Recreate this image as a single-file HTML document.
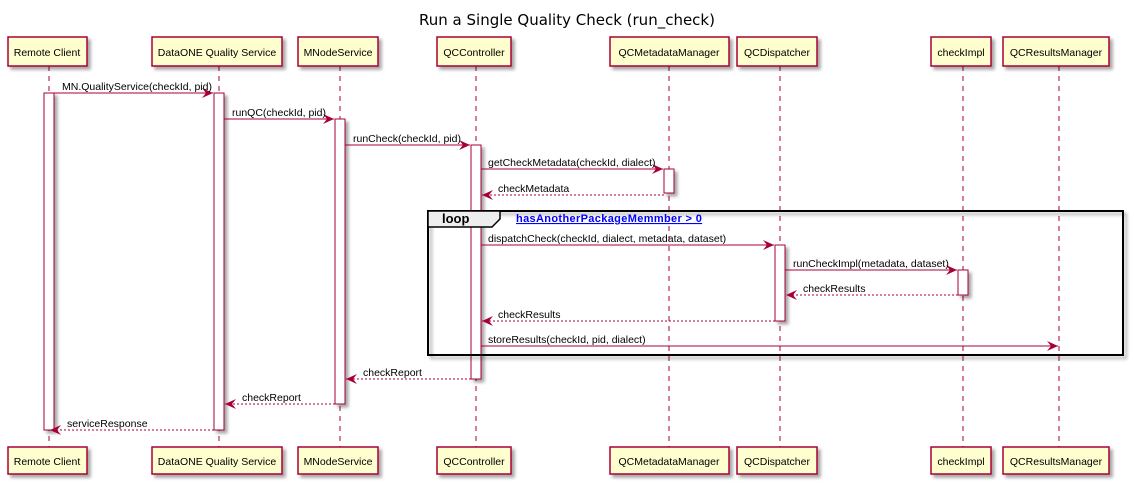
<!DOCTYPE html>
<html><head><meta charset="utf-8"><style>
html,body{margin:0;padding:0;background:#fff;width:1134px;height:484px;overflow:hidden}
svg text{font-family:"Liberation Sans",sans-serif;font-size:10.5px;fill:#000}
</style></head><body>
<svg width="1134" height="484" viewBox="0 0 1134 484" xmlns="http://www.w3.org/2000/svg">
<defs>
<filter id="sh" x="-10%" y="-10%" width="130%" height="140%"><feDropShadow dx="3" dy="3" stdDeviation="1.5" flood-color="#000" flood-opacity="0.35"/></filter>
<marker id="ah" markerWidth="12" markerHeight="10" refX="11" refY="5" orient="auto" markerUnits="userSpaceOnUse"><path d="M0,0 L11,5 L0,10 L4,5 Z" fill="#A80036"/></marker>
</defs>
<text x="567" y="25" text-anchor="middle" style="font-family:'DejaVu Sans','Liberation Sans',sans-serif;font-size:15px;font-weight:normal;fill:#000">Run a Single Quality Check (run_check)</text>

<g stroke="#A80036" stroke-dasharray="5,5" stroke-width="1">
<line x1="49" y1="66" x2="49" y2="447"/>
<line x1="219" y1="66" x2="219" y2="447"/>
<line x1="340" y1="66" x2="340" y2="447"/>
<line x1="476" y1="66" x2="476" y2="447"/>
<line x1="669" y1="66" x2="669" y2="447"/>
<line x1="780" y1="66" x2="780" y2="447"/>
<line x1="963" y1="66" x2="963" y2="447"/>
<line x1="1059" y1="66" x2="1059" y2="447"/>
</g>

<g fill="#FEFECE" stroke="#A80036" stroke-width="1.5" filter="url(#sh)">
<rect x="8" y="37" width="79" height="29"/><rect x="152" y="37" width="130" height="29"/>
<rect x="298" y="37" width="80" height="29"/><rect x="437" y="37" width="74" height="29"/>
<rect x="610" y="37" width="119" height="29"/><rect x="737" y="37" width="80" height="29"/>
<rect x="931" y="37" width="60" height="29"/><rect x="1003" y="37" width="106" height="29"/>
<rect x="8" y="447" width="79" height="27"/><rect x="152" y="447" width="130" height="27"/>
<rect x="298" y="447" width="80" height="27"/><rect x="437" y="447" width="74" height="27"/>
<rect x="610" y="447" width="119" height="27"/><rect x="737" y="447" width="80" height="27"/>
<rect x="931" y="447" width="60" height="27"/><rect x="1003" y="447" width="106" height="27"/>
</g>
<g text-anchor="middle">
<text x="47" y="56">Remote Client</text><text x="217" y="56">DataONE Quality Service</text>
<text x="338" y="56">MNodeService</text><text x="474" y="56">QCController</text>
<text x="669" y="56">QCMetadataManager</text><text x="777" y="56">QCDispatcher</text>
<text x="961" y="56">checkImpl</text><text x="1056" y="56">QCResultsManager</text>
<text x="47" y="465">Remote Client</text><text x="217" y="465">DataONE Quality Service</text>
<text x="338" y="465">MNodeService</text><text x="474" y="465">QCController</text>
<text x="669" y="465">QCMetadataManager</text><text x="777" y="465">QCDispatcher</text>
<text x="961" y="465">checkImpl</text><text x="1056" y="465">QCResultsManager</text>
</g>

<g fill="#fff" stroke="#A80036" stroke-width="1" filter="url(#sh)">
<rect x="44" y="93" width="10" height="337"/>
<rect x="214" y="93" width="10" height="337"/>
<rect x="335" y="119" width="10" height="285"/>
<rect x="471" y="145" width="10" height="234"/>
<rect x="664" y="169" width="10" height="24"/>
<rect x="775" y="245" width="10" height="76"/>
<rect x="958" y="270" width="10" height="25"/>
</g>

<rect x="428" y="211" width="695" height="144" fill="none" stroke="#000" stroke-width="2" filter="url(#sh)"/>
<path d="M428,211 L500,211 L500,219 L492,227 L428,227 Z" fill="#EEEEEE" stroke="#000" stroke-width="1.5"/>
<text x="442" y="223" style="font-size:13px;font-weight:bold">loop</text>
<text x="516" y="222" style="font-size:11px;font-weight:bold;fill:#0000ff;text-decoration:underline;letter-spacing:0.35px">hasAnotherPackageMemmber &gt; 0</text>

<g stroke="#A80036" stroke-width="1" fill="none">
<line x1="54" y1="93" x2="213" y2="93" marker-end="url(#ah)"/>
<line x1="224" y1="119" x2="334" y2="119" marker-end="url(#ah)"/>
<line x1="345" y1="145" x2="470" y2="145" marker-end="url(#ah)"/>
<line x1="481" y1="169" x2="663" y2="169" marker-end="url(#ah)"/>
<line x1="664" y1="195" x2="482" y2="195" stroke-dasharray="2,2" marker-end="url(#ah)"/>
<line x1="481" y1="245" x2="774" y2="245" marker-end="url(#ah)"/>
<line x1="785" y1="270" x2="957" y2="270" marker-end="url(#ah)"/>
<line x1="958" y1="295" x2="786" y2="295" stroke-dasharray="2,2" marker-end="url(#ah)"/>
<line x1="775" y1="321" x2="482" y2="321" stroke-dasharray="2,2" marker-end="url(#ah)"/>
<line x1="481" y1="346" x2="1058" y2="346" marker-end="url(#ah)"/>
<line x1="471" y1="379" x2="346" y2="379" stroke-dasharray="2,2" marker-end="url(#ah)"/>
<line x1="335" y1="404" x2="225" y2="404" stroke-dasharray="2,2" marker-end="url(#ah)"/>
<line x1="214" y1="430" x2="50" y2="430" stroke-dasharray="2,2" marker-end="url(#ah)"/>
</g>
<g>
<text x="62" y="90">MN.QualityService(checkId, pid)</text>
<text x="232" y="116">runQC(checkId, pid)</text>
<text x="353" y="142">runCheck(checkId, pid)</text>
<text x="488" y="166">getCheckMetadata(checkId, dialect)</text>
<text x="498" y="192">checkMetadata</text>
<text x="488" y="242">dispatchCheck(checkId, dialect, metadata, dataset)</text>
<text x="793" y="267">runCheckImpl(metadata, dataset)</text>
<text x="803" y="292">checkResults</text>
<text x="498" y="318">checkResults</text>
<text x="488" y="343">storeResults(checkId, pid, dialect)</text>
<text x="363" y="376">checkReport</text>
<text x="242" y="401">checkReport</text>
<text x="67" y="427">serviceResponse</text>
</g>
</svg>
</body></html>
